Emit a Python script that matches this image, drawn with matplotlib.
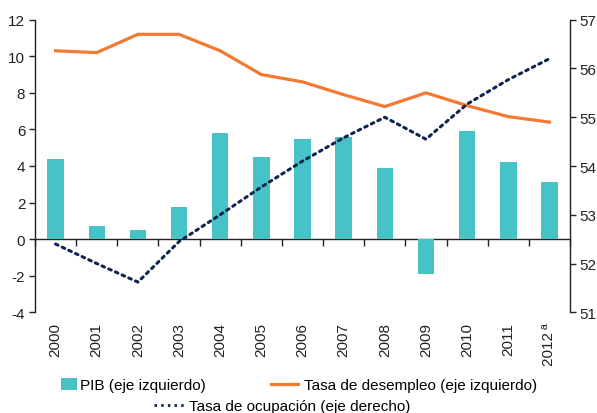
import matplotlib
matplotlib.use("Agg")
import matplotlib.pyplot as plt
from matplotlib.lines import Line2D
from matplotlib.patches import Patch
import numpy as np

plt.rcParams['font.family'] = ['Liberation Sans', 'DejaVu Sans']
plt.rcParams['axes.unicode_minus'] = False

years = ['2000', '2001', '2002', '2003', '2004', '2005', '2006', '2007',
         '2008', '2009', '2010', '2011', '2012\u2009ª']
pib = [4.4, 0.7, 0.5, 1.75, 5.8, 4.5, 5.5, 5.6, 3.9, -1.9, 5.9, 4.2, 3.1]
desempleo = [10.3, 10.2, 11.2, 11.2, 10.3, 9.0, 8.6, 7.9, 7.25, 8.0, 7.3, 6.7, 6.4]
ocupacion = [52.4, 52.0, 51.62, 52.45, 53.0, 53.57, 54.1, 54.58, 55.0, 54.55, 55.27, 55.77, 56.2]

c_bar = '#47C2C6'
c_orange = '#F47A32'
c_navy = '#0F2550'
c_axis = '#222222'

fig = plt.figure(figsize=(5.97, 4.14), dpi=100)
ax = fig.add_axes([35/597, 1-313.3/414, (570-35)/597, (313.3-20.7)/414])
x = np.arange(len(years))

ax.bar(x, pib, width=0.4, color=c_bar, zorder=2)
ax.plot(x, desempleo, color=c_orange, lw=2.3, zorder=3, solid_joinstyle='miter')
ax.set_xlim(-0.5, len(years) - 0.5)
ax.set_ylim(-4, 12)
ax.set_yticks(np.arange(-4, 13, 2))

ax2 = ax.twinx()
ax2.plot(x, ocupacion, color=c_navy, lw=2.2, linestyle=(0, (0.9, 1.5)),
         dash_capstyle='round', zorder=4)
ax2.set_ylim(51, 57)
ax2.set_yticks(np.arange(51, 58, 1))

for a in (ax, ax2):
    a.spines['top'].set_visible(False)
    a.spines['bottom'].set_visible(False)
    a.patch.set_visible(False)
ax.spines['right'].set_visible(False)
ax2.spines['left'].set_visible(False)
ax.spines['left'].set_color(c_axis)
ax2.spines['right'].set_color(c_axis)
ax.spines['left'].set_linewidth(1.0)
ax2.spines['right'].set_linewidth(1.0)

ax.tick_params(axis='y', direction='out', length=4.5, width=1.0, pad=2.5,
               labelsize=11, colors=c_axis, labelcolor='#222222')
ax2.tick_params(axis='y', direction='out', length=4.0, width=1.0, pad=3,
                labelsize=11, colors=c_axis, labelcolor='#222222')

ax.set_xticks(x)
ax.set_xticklabels(years, rotation=90, fontsize=11, color='#222222')
ax.tick_params(axis='x', length=0, pad=7)

# zero axis line with category boundary ticks
sec = ax.secondary_xaxis(0.25)
sec.set_xticks(np.arange(-0.5, len(years), 1.0))
sec.tick_params(axis='x', direction='out', length=5, width=1.0, labelbottom=False,
                colors=c_axis)
sec.spines['bottom'].set_color(c_axis)
sec.spines['bottom'].set_linewidth(1.0)

fs = 11
h1 = Patch(facecolor=c_bar, edgecolor='none')
h2 = Line2D([], [], color=c_orange, lw=2.3)
h3 = Line2D([], [], color=c_navy, lw=2.0, linestyle=(0, (0.9, 1.5)))

fig.legend([h1], ['PIB (eje izquierdo)'], loc='center left',
           bbox_to_anchor=(61/597, 1-386/414), frameon=False, fontsize=fs,
           handlelength=1.05, handleheight=0.85, handletextpad=0.2,
           borderpad=0, borderaxespad=0)
fig.legend([h2], ['Tasa de desempleo (eje izquierdo)'], loc='center left',
           bbox_to_anchor=(271/597, 1-386/414), frameon=False, fontsize=fs,
           handlelength=1.75, handletextpad=0.4, borderpad=0, borderaxespad=0)
fig.legend([h3], ['Tasa de ocupación (eje derecho)'], loc='center left',
           bbox_to_anchor=(154/597, 1-407/414), frameon=False, fontsize=fs,
           handlelength=1.95, handletextpad=0.35, borderpad=0, borderaxespad=0)

fig.savefig('out.png', dpi=100)
